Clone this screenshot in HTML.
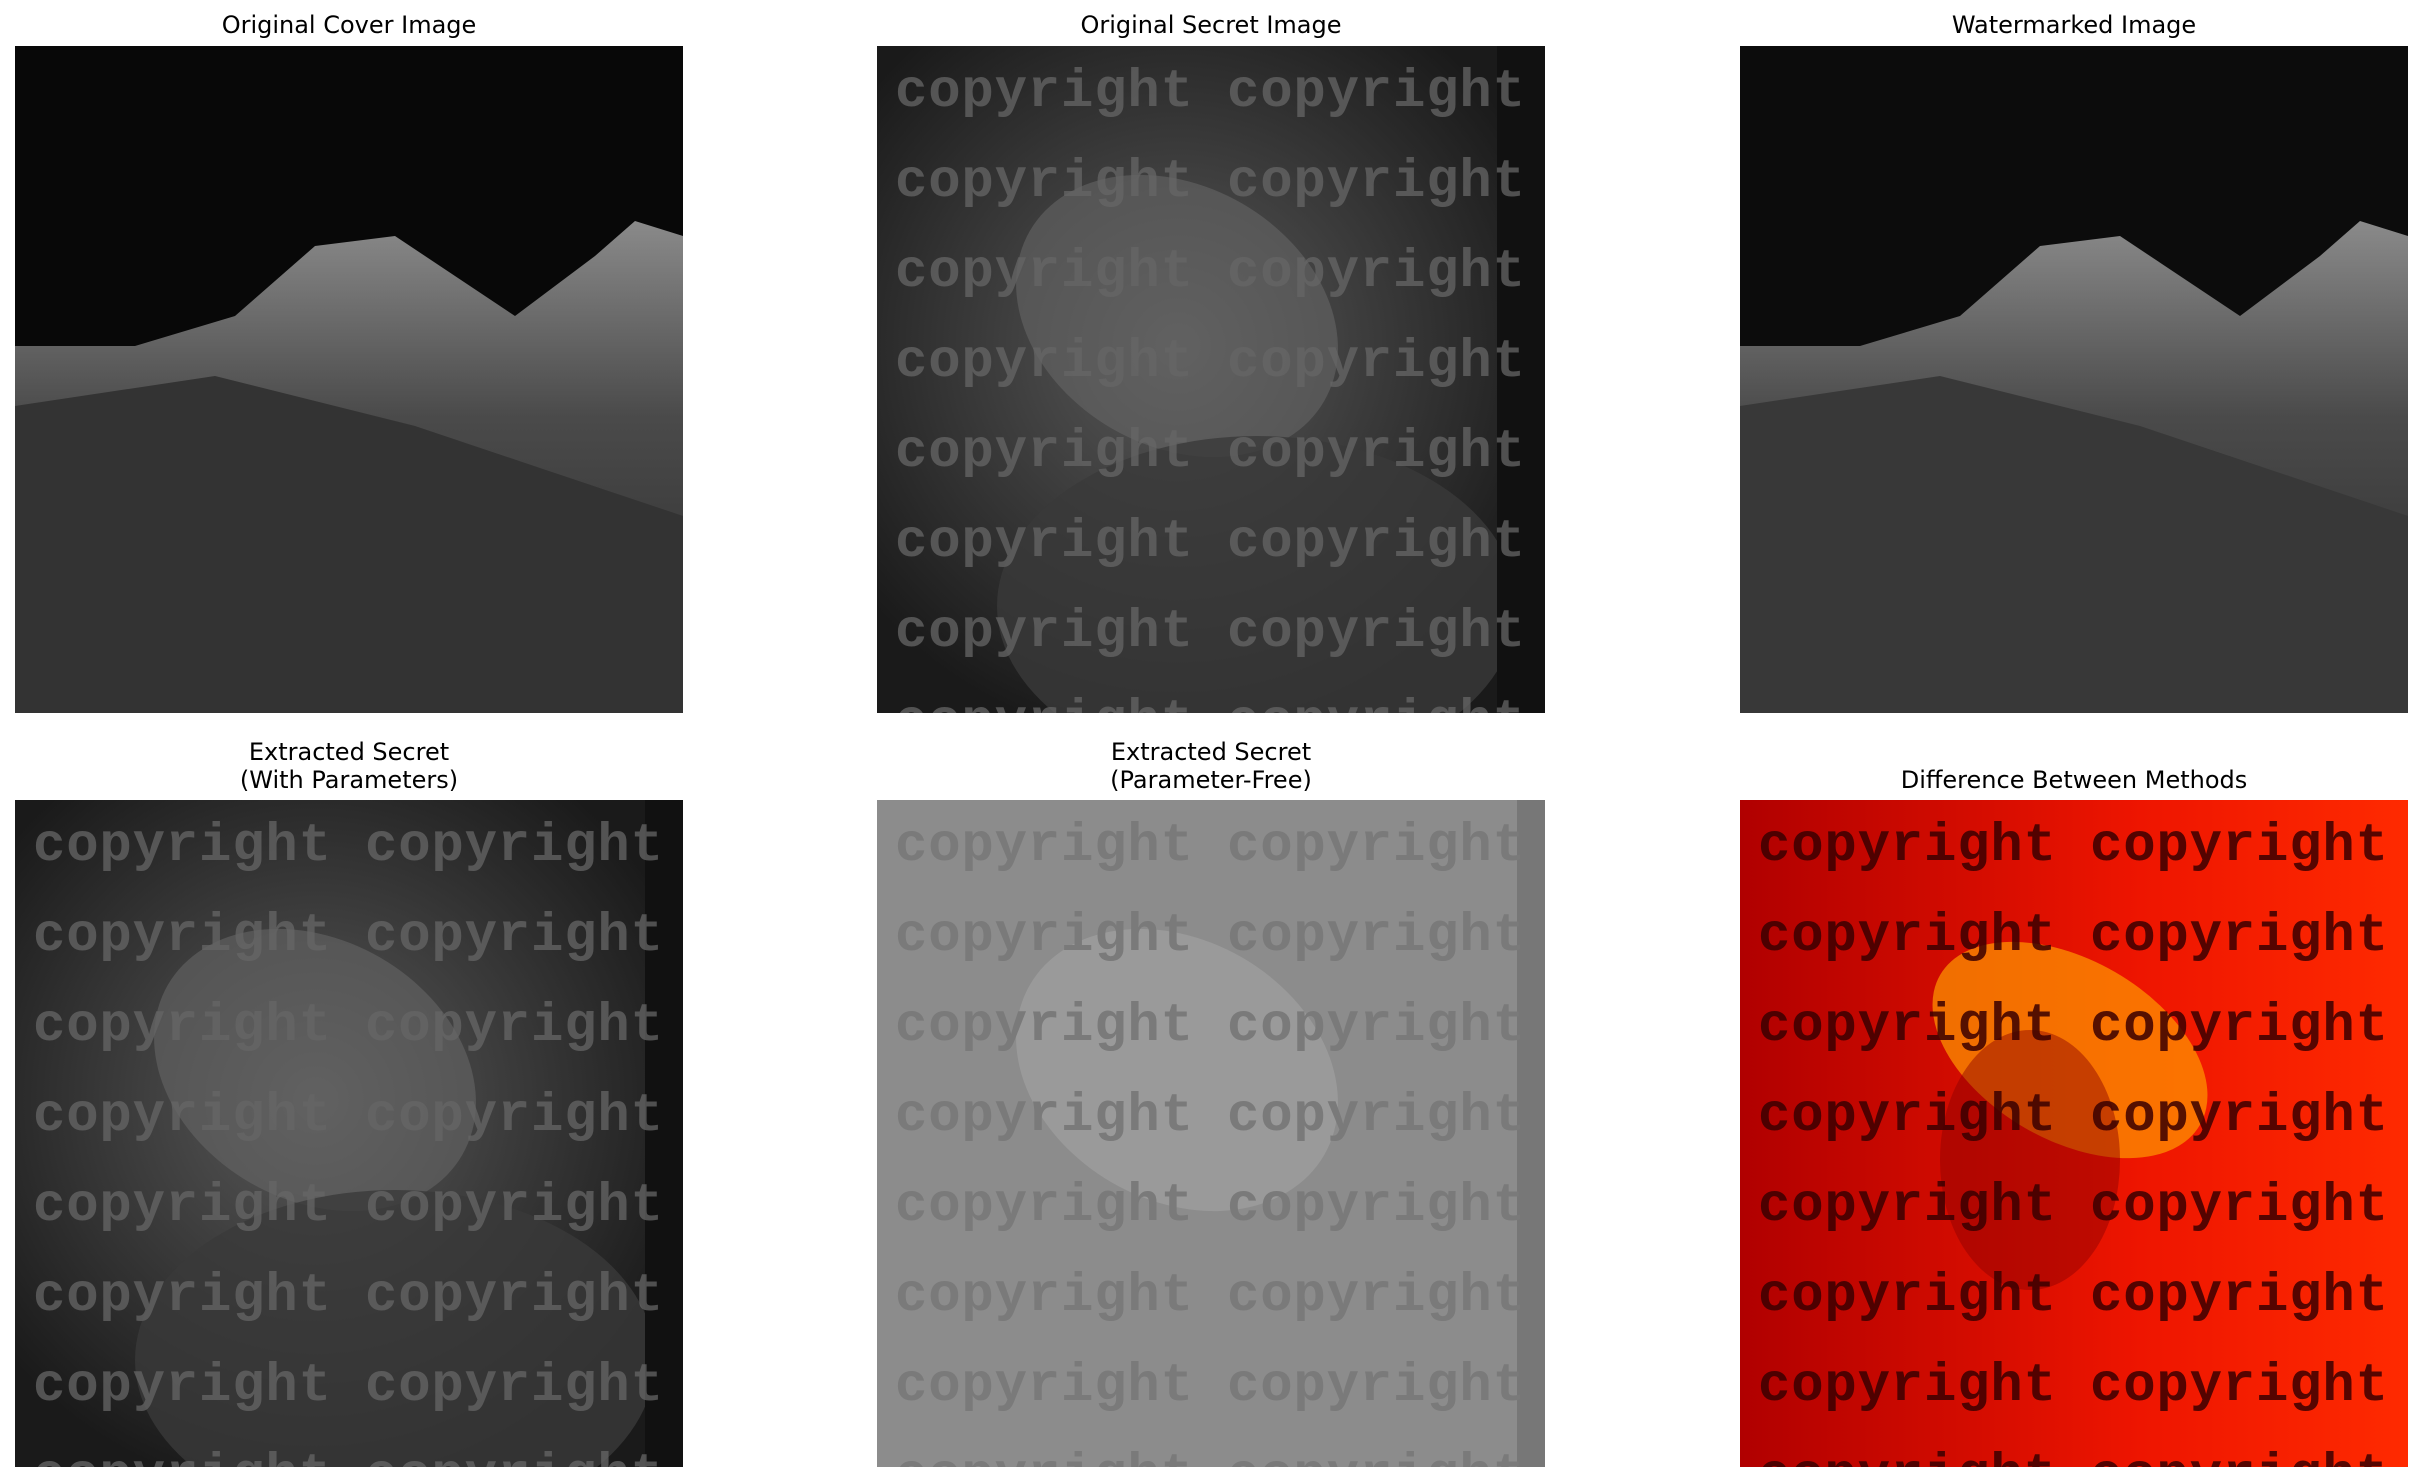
<!DOCTYPE html>
<html><head><meta charset="utf-8"><style>
body{margin:0;background:#fff;width:2421px;height:1482px;position:relative;overflow:hidden;font-family:"DejaVu Sans","Liberation Sans",sans-serif}
.t{position:absolute;font-size:24px;color:#000;text-align:center;width:668px;line-height:28px}
.p{position:absolute;width:668px;height:667px}
</style></head><body>
<div class="t" style="left:15px;top:11px">Original Cover Image</div>
<div class="t" style="left:877px;top:11px">Original Secret Image</div>
<div class="t" style="left:1740px;top:11px">Watermarked Image</div>
<div class="t" style="left:15px;top:738px">Extracted Secret<br>(With Parameters)</div>
<div class="t" style="left:877px;top:738px">Extracted Secret<br>(Parameter-Free)</div>
<div class="t" style="left:1740px;top:766px">Difference Between Methods</div>

<svg class="p" style="left:15px;top:46px" viewBox="0 0 668 667">
<defs><linearGradient id="g1" x1="0" y1="0" x2="0" y2="1"><stop offset="0" stop-color="#8a8a8a"/><stop offset="0.4" stop-color="#4a4a4a"/><stop offset="1" stop-color="#2a2a2a"/></linearGradient></defs>
<rect width="668" height="667" fill="#080808"/>
<polygon points="0,300 120,300 220,270 300,200 380,190 440,230 500,270 580,210 620,175 668,190 668,667 0,667" fill="url(#g1)"/>
<polygon points="0,360 200,330 400,380 668,470 668,667 0,667" fill="#333"/>
</svg>

<svg class="p" style="left:1740px;top:46px" viewBox="0 0 668 667">
<rect width="668" height="667" fill="#0c0c0c"/>
<polygon points="0,300 120,300 220,270 300,200 380,190 440,230 500,270 580,210 620,175 668,190 668,667 0,667" fill="url(#g1)"/>
<polygon points="0,360 200,330 400,380 668,470 668,667 0,667" fill="#383838"/>
</svg>

<svg class="p" style="left:877px;top:46px" viewBox="0 0 668 667">
<defs><radialGradient id="c1" cx="0.45" cy="0.45" r="0.6"><stop offset="0" stop-color="#5a5a5a"/><stop offset="1" stop-color="#1a1a1a"/></radialGradient></defs>
<rect width="668" height="667" fill="url(#c1)"/>
<ellipse cx="300" cy="270" rx="170" ry="130" fill="#666" opacity="0.6" transform="rotate(30 300 270)"/>
<ellipse cx="380" cy="560" rx="260" ry="170" fill="#3a3a3a" opacity="0.8"/>
<rect x="620" y="0" width="48" height="667" fill="#111"/>
<g font-family="Liberation Mono,monospace" font-weight="bold" font-size="54" fill="#666" opacity="0.75">
<text x="18" y="60" textLength="630">copyright copyright</text><text x="18" y="150" textLength="630">copyright copyright</text><text x="18" y="240" textLength="630">copyright copyright</text><text x="18" y="330" textLength="630">copyright copyright</text><text x="18" y="420" textLength="630">copyright copyright</text><text x="18" y="510" textLength="630">copyright copyright</text><text x="18" y="600" textLength="630">copyright copyright</text><text x="18" y="690" textLength="630">copyright copyright</text></g>
</svg>

<svg class="p" style="left:15px;top:800px" viewBox="0 0 668 667">
<rect width="668" height="667" fill="url(#c1)"/>
<ellipse cx="300" cy="270" rx="170" ry="130" fill="#666" opacity="0.6" transform="rotate(30 300 270)"/>
<ellipse cx="380" cy="560" rx="260" ry="170" fill="#3a3a3a" opacity="0.8"/>
<rect x="630" y="0" width="38" height="667" fill="#111"/>
<g font-family="Liberation Mono,monospace" font-weight="bold" font-size="54" fill="#666" opacity="0.75">
<text x="18" y="60" textLength="630">copyright copyright</text><text x="18" y="150" textLength="630">copyright copyright</text><text x="18" y="240" textLength="630">copyright copyright</text><text x="18" y="330" textLength="630">copyright copyright</text><text x="18" y="420" textLength="630">copyright copyright</text><text x="18" y="510" textLength="630">copyright copyright</text><text x="18" y="600" textLength="630">copyright copyright</text><text x="18" y="690" textLength="630">copyright copyright</text></g>
</svg>

<svg class="p" style="left:877px;top:800px" viewBox="0 0 668 667">
<rect width="668" height="667" fill="#8c8c8c"/>
<ellipse cx="300" cy="270" rx="170" ry="130" fill="#9a9a9a" transform="rotate(30 300 270)"/>
<rect x="640" y="0" width="28" height="667" fill="#777"/>
<g font-family="Liberation Mono,monospace" font-weight="bold" font-size="54" fill="#7a7a7a">
<text x="18" y="60" textLength="630">copyright copyright</text><text x="18" y="150" textLength="630">copyright copyright</text><text x="18" y="240" textLength="630">copyright copyright</text><text x="18" y="330" textLength="630">copyright copyright</text><text x="18" y="420" textLength="630">copyright copyright</text><text x="18" y="510" textLength="630">copyright copyright</text><text x="18" y="600" textLength="630">copyright copyright</text><text x="18" y="690" textLength="630">copyright copyright</text></g>
</svg>

<svg class="p" style="left:1740px;top:800px" viewBox="0 0 668 667">
<defs><linearGradient id="r1" x1="0" y1="0" x2="1" y2="0"><stop offset="0" stop-color="#b00000"/><stop offset="0.6" stop-color="#ee1500"/><stop offset="1" stop-color="#ff2a00"/></linearGradient></defs>
<rect width="668" height="667" fill="url(#r1)"/>
<ellipse cx="330" cy="250" rx="150" ry="90" fill="#ff9a00" opacity="0.7" transform="rotate(30 330 250)"/>
<ellipse cx="290" cy="360" rx="90" ry="130" fill="#8a0000" opacity="0.45"/>
<g font-family="Liberation Mono,monospace" font-weight="bold" font-size="54" fill="#3a0000" opacity="0.85">
<text x="18" y="60" textLength="630">copyright copyright</text><text x="18" y="150" textLength="630">copyright copyright</text><text x="18" y="240" textLength="630">copyright copyright</text><text x="18" y="330" textLength="630">copyright copyright</text><text x="18" y="420" textLength="630">copyright copyright</text><text x="18" y="510" textLength="630">copyright copyright</text><text x="18" y="600" textLength="630">copyright copyright</text><text x="18" y="690" textLength="630">copyright copyright</text></g>
</svg>
</body></html>
